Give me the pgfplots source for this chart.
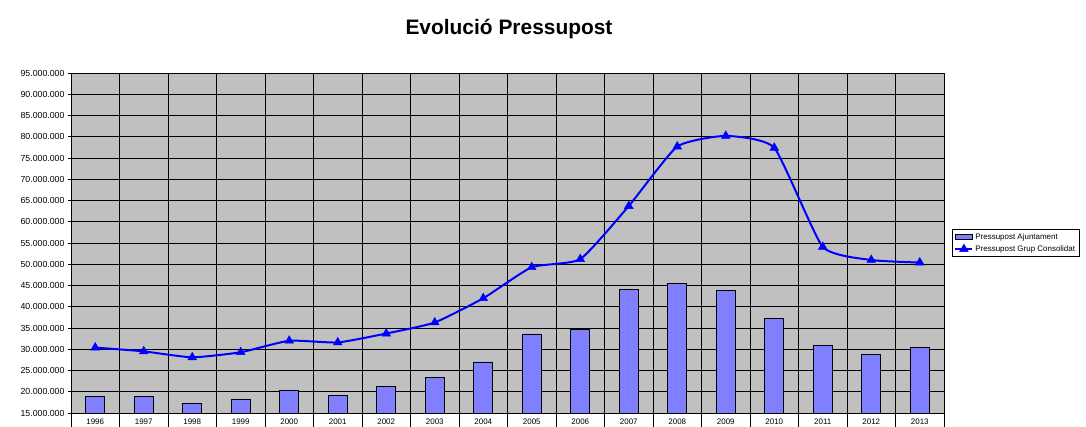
\documentclass[border=0pt]{standalone}
\usepackage{fontspec}
\setmainfont{Liberation Sans}
\usepackage{pgfplots}
\pgfplotsset{compat=1.18}
\usetikzlibrary{calc}
\definecolor{BarLila}{HTML}{8080FF}
\definecolor{LinBlau}{HTML}{0000FF}
\definecolor{FonsGris}{HTML}{C0C0C0}

% valors en milions d'euros
\pgfplotstableread{
x any ajunt grup
0  1996 18.9 30.4
1  1997 18.9 29.5
2  1998 17.3 28.1
3  1999 18.3 29.3
4  2000 20.2 32.0
5  2001 19.2 31.6
6  2002 21.3 33.7
7  2003 23.4 36.3
8  2004 27.0 42.0
9  2005 33.6 49.3
10 2006 34.7 51.2
11 2007 44.1 63.7
12 2008 45.5 77.7
13 2009 43.9 80.2
14 2010 37.3 77.4
15 2011 30.9 54.1
16 2012 28.8 51.0
17 2013 30.5 50.4
}\dades

\begin{document}
\begin{tikzpicture}
\begin{axis}[name=ax,
  scale only axis, width=873bp, height=340bp,
  xmin=-0.5, xmax=17.5, ymin=15, ymax=95,
  axis background/.style={fill=FonsGris},
  axis line style={black, line width=0.8bp},
  xtick={0,...,17},
  xticklabels={1996,1997,1998,1999,2000,2001,2002,2003,2004,2005,2006,2007,2008,2009,2010,2011,2012,2013},
  minor xtick={-0.5,0.5,...,17.5},
  ytick={15,20,...,95},
  yticklabels={15.000.000,20.000.000,25.000.000,30.000.000,35.000.000,40.000.000,45.000.000,50.000.000,55.000.000,60.000.000,65.000.000,70.000.000,75.000.000,80.000.000,85.000.000,90.000.000,95.000.000},
  tick align=outside, tick pos=left,
  major tick length=3bp, minor tick length=14bp,
  major x tick style={draw=none},
  minor x tick style={black, line width=0.8bp},
  major y tick style={black, line width=0.8bp},
  xminorgrids=true, ymajorgrids=true,
  grid style={black, line width=0.8bp},
  minor grid style={black, line width=0.8bp},
  x tick label style={font=\fontsize{8}{9}\selectfont, yshift=1bp},
  y tick label style={font=\fontsize{8.8}{10}\selectfont},
  legend style={at={(1,0.5)}, anchor=west, xshift=8bp, draw=black, fill=white,
    font=\fontsize{8}{9}\selectfont, inner sep=2bp, row sep=1bp,
    cells={anchor=west}, line width=0.8bp},
]
\addplot[ybar, bar width=19bp, fill=BarLila, draw=black, line width=0.8bp, area legend]
  table[x=x, y=ajunt] {\dades};
\addlegendentry{Pressupost Ajuntament}
\addplot[LinBlau, line width=2bp, smooth, tension=0.3, mark=triangle*, mark size=5bp,
  mark options={solid, line width=0.5bp}]
  table[x=x, y=grup] {\dades};
\addlegendentry{Pressupost Grup Consolidat}
\end{axis}
\node[font=\bfseries\fontsize{21}{24}\selectfont, anchor=base] at ($(ax.north west)!0.5!(ax.north east)+(1.5bp,38bp)$) {Evolució Pressupost};
\pgfresetboundingbox
\path[use as bounding box] ($(ax.south west)+(-71bp,-14bp)$) rectangle ($(ax.north east)+(142bp,73bp)$);
\end{tikzpicture}
\end{document}
